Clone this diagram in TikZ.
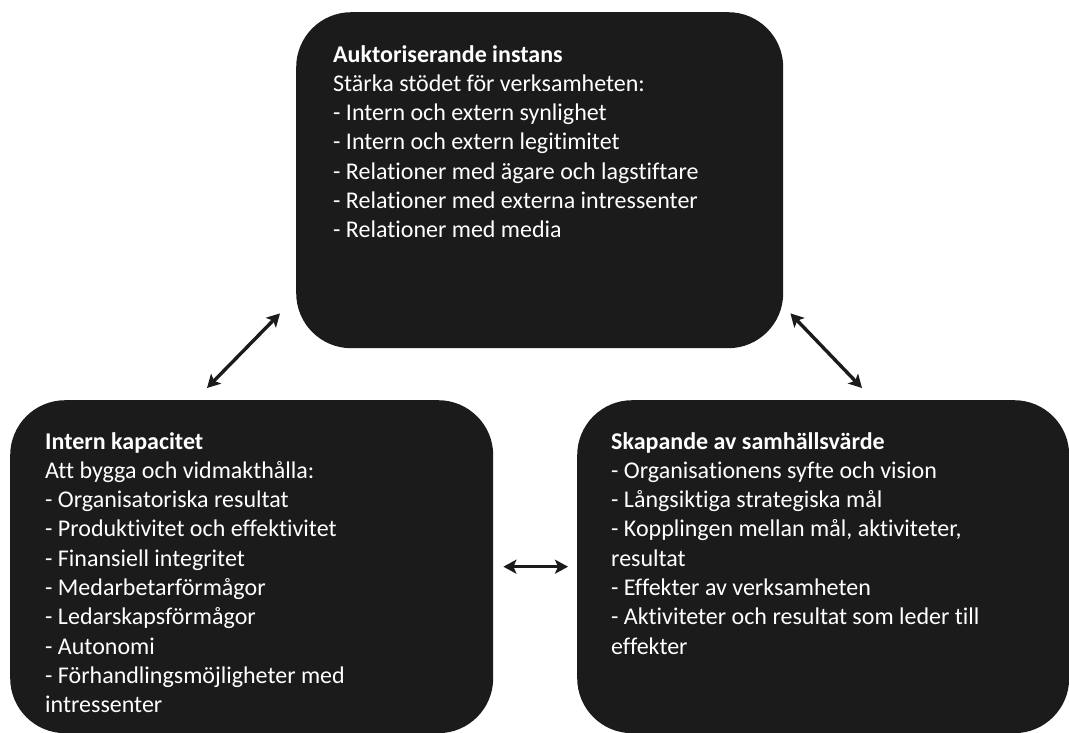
\documentclass[tikz,border=0pt]{standalone}
\usepackage{fontspec}
\setmainfont{Carlito}[RawFeature={-liga}]
\usetikzlibrary{arrows.meta,positioning}

\definecolor{panelfill}{RGB}{26,27,26}

\begin{document}
\begin{tikzpicture}[x=1pt, y=-1pt, >={Stealth[length=13pt, width=14pt, inset=3pt]}]

  % Styles
  \tikzset{
    panel/.style={rounded corners=55pt, fill=panelfill, draw=none, anchor=north west, inner sep=0pt},
    panel text/.style={text=white, align=left, inner sep=0pt, anchor=north west,
      font=\fontsize{24}{29.3}\selectfont},
    link/.style={<->, line width=3.4pt, draw=panelfill}
  }

  \useasboundingbox (0,0) rectangle (1069,732);

  % --- Top panel: authorising environment ---
  \node[panel, minimum width=487pt, minimum height=336pt] (auth) at (296,12) {};
  \node[panel text, below right=33pt and 37pt of auth.north west] (authtext) {%
    \textbf{Auktoriserande instans}\\
    Stärka stödet för verksamheten:\\
    - Intern och extern synlighet\\
    - Intern och extern legitimitet\\
    - Relationer med ägare och lagstiftare\\
    - Relationer med externa intressenter\\
    - Relationer med media};

  % --- Left panel: internal capacity ---
  \node[panel, minimum width=483pt, minimum height=333pt] (intern) at (10,400) {};
  \node[panel text, below right=32pt and 35pt of intern.north west] (interntext) {%
    \textbf{Intern kapacitet}\\
    Att bygga och vidmakthålla:\\
    - Organisatoriska resultat\\
    - Produktivitet och effektivitet\\
    - Finansiell integritet\\
    - Medarbetarförmågor\\
    - Ledarskapsförmågor\\
    - Autonomi\\
    - Förhandlingsmöjligheter med\\
    intressenter};

  % --- Right panel: public value ---
  \node[panel, minimum width=492pt, minimum height=333pt] (value) at (577,400) {};
  \node[panel text, below right=32pt and 34pt of value.north west] (valuetext) {%
    \textbf{Skapande av samhällsvärde}\\
    - Organisationens syfte och vision\\
    - Långsiktiga strategiska mål\\
    - Kopplingen mellan mål, aktiviteter,\\
    resultat\\
    - Effekter av verksamheten\\
    - Aktiviteter och resultat som leder till\\
    effekter};

  % Arrow ends
  \coordinate (authL) at ([shift={(-16,-35)}]auth.south west);
  \coordinate (authR) at ([shift={(7,-35)}]auth.south east);
  \coordinate (internT) at ([shift={(197,-12)}]intern.north west);
  \coordinate (valueT) at ([shift={(285,-12)}]value.north west);

  % Links
  \draw[link] (internT) -- (authL);
  \draw[link] (authR) -- (valueT);
  \draw[link, shorten <=10pt, shorten >=9pt] (intern) -- (value);

\end{tikzpicture}
\end{document}
